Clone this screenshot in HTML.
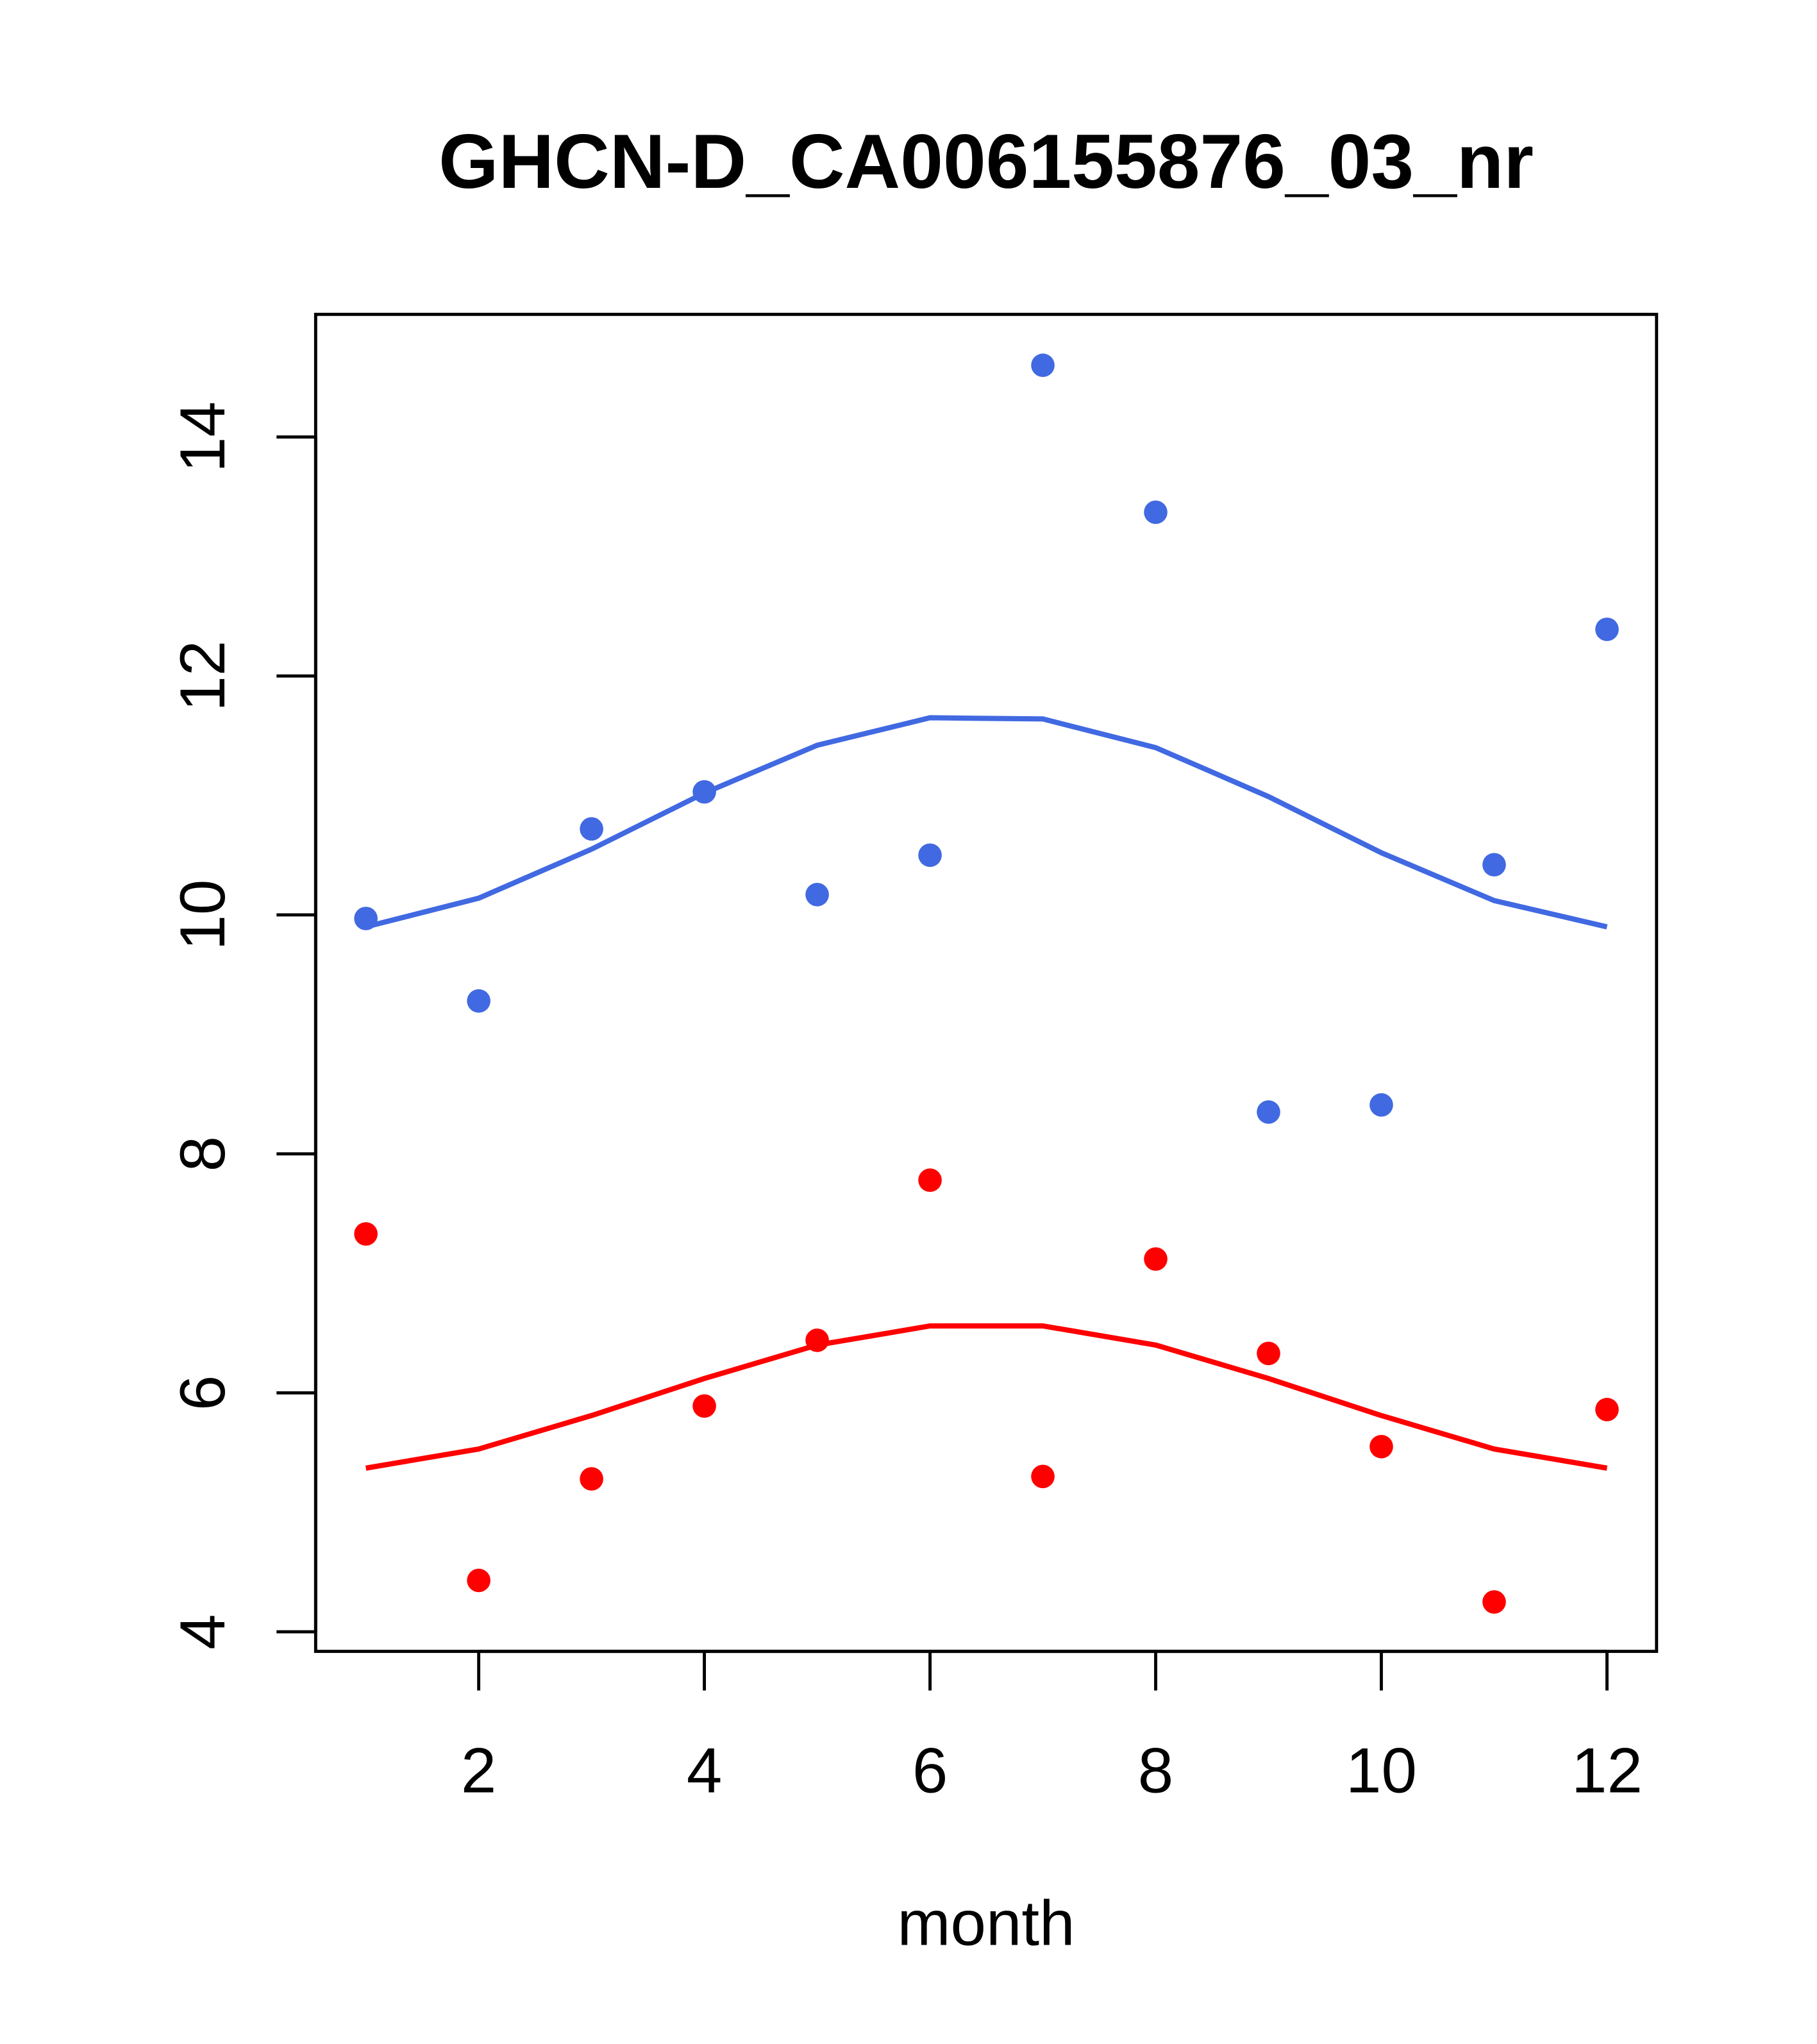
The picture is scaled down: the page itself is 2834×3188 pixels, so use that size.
<!DOCTYPE html>
<html><head><meta charset="utf-8"><style>
html,body{margin:0;padding:0;background:#fff;}
svg{display:block;}
text{font-family:"Liberation Sans",sans-serif;}
</style></head><body>
<svg id="chart" width="2834" height="3188" viewBox="0 0 1393 1567" preserveAspectRatio="none" xmlns="http://www.w3.org/2000/svg">
<text x="756" y="144" text-anchor="middle" font-size="59" font-weight="bold">GHCN-D_CA006155876_03_nr</text>
<rect x="242" y="241" width="1028" height="1025" fill="none" stroke="#000" stroke-width="2.4"/>
<text x="756" y="1491" text-anchor="middle" font-size="49">month</text>
<g id="g"></g>
</svg>
<script>
const months = [1,2,3,4,5,6,7,8,9,10,11,12];
const bluePoints = [9.97,9.28,10.72,11.03,10.17,10.50,14.6,13.37,8.35,8.41,10.42,12.39];
const blueLine = [9.9,10.14,10.55,11.02,11.42,11.65,11.64,11.40,10.99,10.52,10.12,9.9];
const redPoints = [7.33,4.43,5.28,5.89,6.44,7.78,5.30,7.12,6.33,5.55,4.25,5.86];
const redLine = [5.37,5.53,5.81,6.12,6.40,6.56,6.56,6.40,6.12,5.81,5.53,5.37];
const xTicks = [2,4,6,8,10,12];
const yTicks = [4,6,8,10,12,14];

const NS = "http://www.w3.org/2000/svg";
const g = document.getElementById('g');
function x(m){ return 367 + (m-2)*86.5; }
function y(v){ return 1251 - (v-4)*91.6; }
function mk(tag, attrs){ const e=document.createElementNS(NS,tag); for(const k in attrs) e.setAttribute(k,attrs[k]); g.appendChild(e); return e; }

xTicks.forEach(t=>{
  const l=mk('line',{x1:x(t),x2:x(t),y1:1266,y2:1296,stroke:'#000','stroke-width':2.4});
  
  
  const tx=mk('text',{x:x(t),y:1374,'text-anchor':'middle','font-size':49});
  tx.textContent=t;
  
  
});
const xa=mk('line',{x1:x(2),x2:x(12),y1:1266,y2:1266,stroke:'#000','stroke-width':2.4});


yTicks.forEach(t=>{
  const l=mk('line',{x1:212,x2:242,y1:y(t),y2:y(t),stroke:'#000','stroke-width':2.4});
  
  
  const tx=mk('text',{x:0,y:0,'text-anchor':'middle','font-size':49,transform:`translate(172,${y(t)}) rotate(-90)`});
  tx.textContent=t;
  
  
});
const ya=mk('line',{x1:242,x2:242,y1:y(4),y2:y(14),stroke:'#000','stroke-width':2.4});



function line(vals,color,name){
  const p=mk('polyline',{points:vals.map((v,i)=>x(months[i])+','+y(v)).join(' '),fill:'none',stroke:color,'stroke-width':4});
  
  
}
function pts(vals,color,name){
  vals.forEach((v,i)=>{
    const c=mk('circle',{cx:x(months[i]),cy:y(v),r:9,fill:color});
    
    
  });
}
line(blueLine,'#4169e1','blue-line');
line(redLine,'#ff0000','red-line');
pts(bluePoints,'#4169e1','blue-point');
pts(redPoints,'#ff0000','red-point');
</script>
</body></html>
